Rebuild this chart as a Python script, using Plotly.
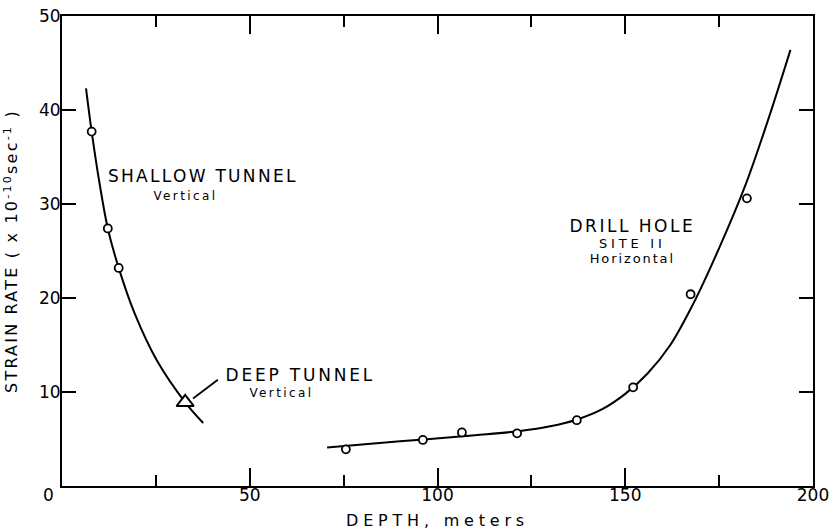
import plotly.graph_objects as go

# ---- data ----
shallow_depth = [7.9, 12.2, 15.1]
shallow_rate = [37.7, 27.4, 23.2]
shallow_curve_depth = [6.4, 7.9, 10.0, 12.2, 15.1, 19.4, 25.2, 32.8, 37.6]
shallow_curve_rate = [42.3, 37.7, 32.2, 27.4, 23.2, 18.3, 13.4, 8.9, 6.7]

deep_depth = [32.8]
deep_rate = [8.9]

drill_depth = [75.6, 96.1, 106.5, 121.2, 137.1, 152.1, 167.4, 182.4]
drill_rate = [3.9, 4.9, 5.7, 5.6, 7.0, 10.5, 20.4, 30.6]
drill_curve_depth = [70.6, 90.0, 110.0, 122.0, 130.0, 137.0, 144.0, 150.0, 156.0, 162.0, 168.0, 175.0, 182.0, 188.0, 194.0]
drill_curve_rate = [4.1, 4.75, 5.4, 5.85, 6.35, 7.05, 8.2, 9.8, 12.0, 15.0, 19.3, 25.3, 32.0, 38.9, 46.4]

x_ticks = [50, 100, 150, 200]
y_ticks = [10, 20, 30, 40, 50]

FONT = "DejaVu Sans"
BLACK = "black"

fig = go.Figure()

fig.add_trace(go.Scatter(x=shallow_curve_depth, y=shallow_curve_rate, mode="lines",
                         line=dict(color=BLACK, width=2, shape="spline", smoothing=1.0),
                         hoverinfo="skip", showlegend=False))
fig.add_trace(go.Scatter(x=drill_curve_depth, y=drill_curve_rate, mode="lines",
                         line=dict(color=BLACK, width=2, shape="spline", smoothing=1.0),
                         hoverinfo="skip", showlegend=False))
fig.add_trace(go.Scatter(x=shallow_depth, y=shallow_rate, mode="markers",
                         marker=dict(symbol="circle", size=8, color="white",
                                     line=dict(color=BLACK, width=1.8)),
                         name="Shallow tunnel", showlegend=False))
fig.add_trace(go.Scatter(x=drill_depth, y=drill_rate, mode="markers",
                         marker=dict(symbol="circle", size=8, color="white",
                                     line=dict(color=BLACK, width=1.8)),
                         name="Drill hole", showlegend=False))
fig.add_trace(go.Scatter(x=deep_depth, y=deep_rate, mode="markers",
                         marker=dict(symbol="triangle-up", size=15, color="white",
                                     line=dict(color=BLACK, width=2)),
                         name="Deep tunnel", showlegend=False))

# leader line from deep-tunnel triangle to its label
fig.add_shape(type="line", x0=deep_depth[0] + 2.1, y0=deep_rate[0] + 0.4,
              x1=deep_depth[0] + 8.7, y1=deep_rate[0] + 2.4,
              line=dict(color=BLACK, width=1.8))

def label(text, x, y, size):
    fig.add_annotation(x=x, y=y, text=text, showarrow=False, xanchor="center",
                       yanchor="middle", font=dict(family=FONT, size=size, color=BLACK))

label("SHALLOW TUNNEL", 37.5, 33.0, 17)
label("Vertical", 32.8, 30.9, 12)
label("DEEP TUNNEL", 63.4, 11.8, 17)
label("Vertical", 58.5, 9.9, 12)
label("<span style='font-size:17px'>DRILL HOLE</span><br>"
      "<span style='font-size:13px'>SITE II</span><br>"
      "<span style='font-size:13px'>Horizontal</span>", 152.0, 26.1, 12)

# shared origin label
fig.add_annotation(x=0, y=0, xref="x", yref="y", text="0", showarrow=False,
                   xanchor="center", yanchor="middle", xshift=-14, yshift=-9,
                   font=dict(family=FONT, size=17, color=BLACK))

fig.update_xaxes(range=[0, 200], tickvals=x_ticks, ticks="inside", ticklen=18, tickwidth=2,
                 tickcolor=BLACK, showline=True, linecolor=BLACK, linewidth=2, mirror="ticks",
                 showgrid=False, zeroline=False, automargin=False, ticklabelstandoff=-7,
                 minor=dict(dtick=25, tick0=0, ticks="inside", ticklen=11, tickwidth=2,
                            tickcolor=BLACK, showgrid=False),
                 tickfont=dict(family=FONT, size=17, color=BLACK),
                 title=dict(text="DEPTH, meters", standoff=10,
                            font=dict(family=FONT, size=16, color=BLACK)))
fig.update_yaxes(range=[0, 50], tickvals=y_ticks, ticks="inside", ticklen=14, tickwidth=2,
                 tickcolor=BLACK, showline=True, linecolor=BLACK, linewidth=2, mirror="ticks",
                 showgrid=False, zeroline=False, automargin=False, ticklabelstandoff=-4,
                 tickfont=dict(family=FONT, size=17, color=BLACK),
                 title=dict(text="STRAIN RATE ( x 10<sup>-10</sup>sec<sup>-1</sup> )", standoff=17,
                            font=dict(family=FONT, size=16, color=BLACK)))

fig.update_layout(width=833, height=532, margin=dict(l=62, r=20, t=16, b=46),
                  plot_bgcolor="white", paper_bgcolor="white", showlegend=False,
                  hovermode=False)

# remove page margin and widen letter spacing to imitate the stencil lettering
post = """
(function(){
  document.body.style.margin = '0';
  var gd = document.getElementById('{plot_id}');
  var wide = {'SHALLOW TUNNEL': 2.3, 'DEEP TUNNEL': 2.8, 'DRILL HOLE': 2.5,
              'Vertical': 2.4, 'Horizontal': 1.9, 'SITE II': 3.8};
  function apply(){
    gd.querySelectorAll('.annotation-text').forEach(function(t){
      var lines = t.querySelectorAll('tspan.line');
      if (lines.length) {
        lines.forEach(function(l){
          var s = wide[l.textContent];
          if (s) { l.style.letterSpacing = s + 'px'; }
        });
      } else {
        var s = wide[t.textContent];
        if (s) { t.style.letterSpacing = s + 'px'; }
      }
    });
    gd.querySelectorAll('.g-xtitle text').forEach(function(t){ t.style.letterSpacing = '4.8px'; });
    gd.querySelectorAll('.g-ytitle text').forEach(function(t){ t.style.letterSpacing = '2.2px'; });
  }
  apply();
  if (gd && gd.on) { gd.on('plotly_afterplot', apply); }
  setTimeout(apply, 0);
})();
"""

fig.write_html("out.html", post_script=post, config={"displayModeBar": False})
